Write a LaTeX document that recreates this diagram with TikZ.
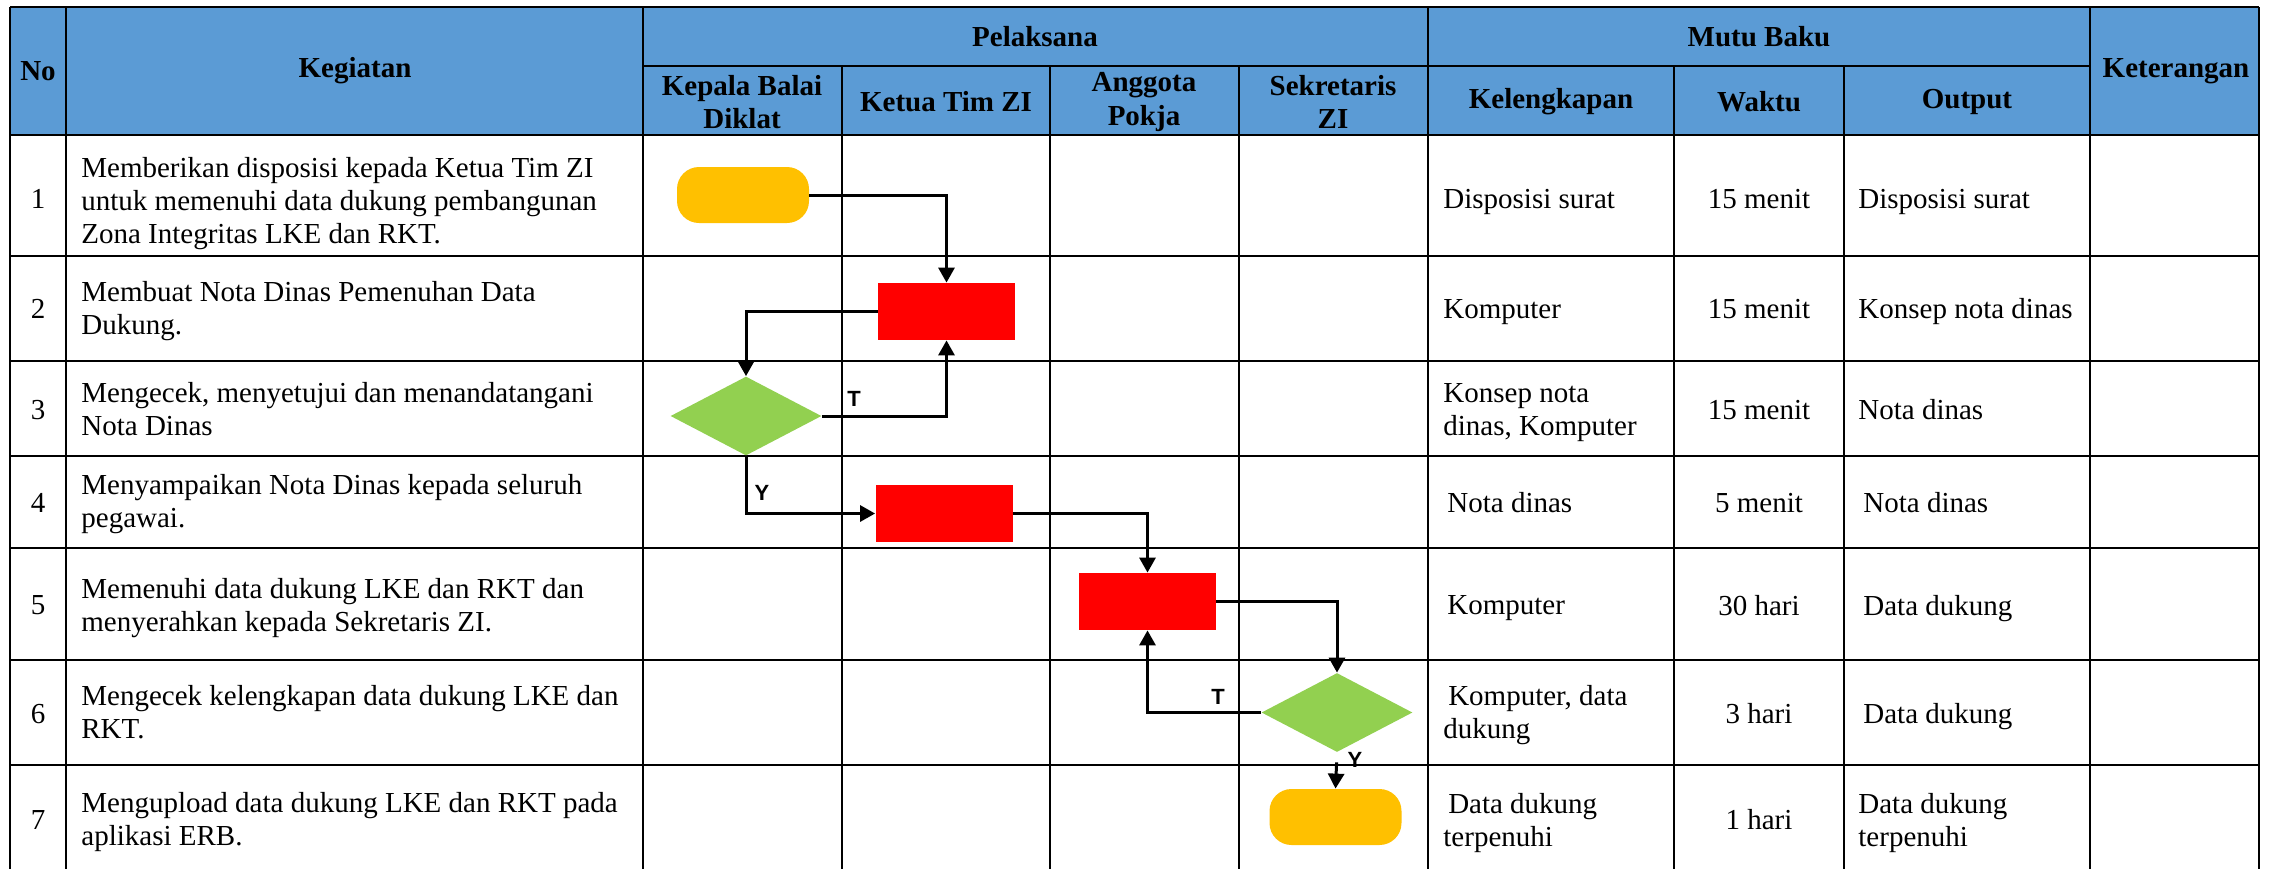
\documentclass[tikz,border=0pt]{standalone}
\usepackage{fontspec}
\setmainfont{Liberation Serif}
\newfontfamily\lblfont{Liberation Sans}
\usetikzlibrary{shapes.geometric,arrows.meta}
\definecolor{hdr}{RGB}{91,155,213}
\definecolor{termc}{RGB}{255,192,0}
\definecolor{procc}{RGB}{255,0,0}
\definecolor{decc}{RGB}{146,208,80}
\newcommand\twoln[2]{\vtop{\hbox{#1}\hbox{#2}}}
\newcommand\threeln[3]{\vtop{\hbox{#1}\hbox{#2}\hbox{#3}}}
\tikzset{
  grid/.style={line width=1pt, black},
  txt/.style={font=\fontsize{14.5}{16.6}\selectfont, inner sep=0pt, anchor=base west},
  ctxt/.style={font=\fontsize{14.5}{16.6}\selectfont, inner sep=0pt, anchor=base},
  htxt/.style={font=\fontsize{14.5}{16.6}\selectfont\bfseries, inner sep=0pt, align=center},
  termbox/.style={draw=none, fill=termc, rectangle, rounded corners=11pt, minimum width=66pt, minimum height=28pt, inner sep=0pt},
  procbox/.style={draw=none, fill=procc, rectangle, minimum width=68.5pt, minimum height=28.5pt, inner sep=0pt},
  decbox/.style={draw=none, fill=decc, diamond, minimum width=75.5pt, minimum height=39.5pt, inner sep=0pt},
  conn/.style={line width=1.5pt, -{Triangle[length=7.5pt,width=8pt]}},
  lbl/.style={font=\lblfont\bfseries\fontsize{11}{13}\selectfont, inner sep=0pt}
}
\begin{document}
\begin{tikzpicture}[x=0.5pt, y=-0.5pt]
\useasboundingbox (0,0) rectangle (2273,869);
\fill[white] (0,0) rectangle (2273,869);
\fill[hdr] (10,7) rectangle (2259,135);
% grid
\foreach \y in {7,135,256,361,456,548,660,765} \draw[grid] (10,\y) -- (2259,\y);
\draw[grid] (643,66) -- (2090,66);
\foreach \x in {10,66,643,1428,2090,2259} \draw[grid] (\x,7) -- (\x,869);
\foreach \x in {842,1050,1239,1674,1844} \draw[grid] (\x,66) -- (\x,869);
% headers
\node[htxt] (hno) at (38,71) {No};
\node[htxt] (hkeg) at (355,71) {Kegiatan};
\node[htxt] (hpel) at (1035,37) {Pelaksana};
\node[htxt] (hmutu) at (1759,37) {Mutu Baku};
\node[htxt] (hket) at (2176,71) {Keterangan};
\node[htxt] (hkbd) at (742,102) {Kepala Balai\\Diklat};
\node[htxt] (hktz) at (946,102) {Ketua Tim ZI};
\node[htxt] (hap) at (1144,102) {Anggota\\Pokja};
\node[htxt] (hsz) at (1333,102) {Sekretaris\\ZI};
\node[htxt] (hkel) at (1551,102) {Kelengkapan};
\node[htxt] (hwak) at (1759,102) {Waktu};
\node[htxt] (hout) at (1967,102) {Output};
% numbers
\node[ctxt] (n1) at (38,208) {1};
\node[ctxt] (n2) at (38,318) {2};
\node[ctxt] (n3) at (38,419) {3};
\node[ctxt] (n4) at (38,512) {4};
\node[ctxt] (n5) at (38,614) {5};
\node[ctxt] (n6) at (38,723) {6};
\node[ctxt] (n7) at (38,829) {7};
% kegiatan
\node[txt] (k1) at (81,177) {\threeln{Memberikan disposisi kepada Ketua Tim ZI}{untuk memenuhi data dukung pembangunan}{Zona Integritas LKE dan RKT.}};
\node[txt] (k2) at (81,301.5) {\twoln{Membuat Nota Dinas Pemenuhan Data}{Dukung.}};
\node[txt] (k3) at (81,402.5) {\twoln{Mengecek, menyetujui dan menandatangani}{Nota Dinas}};
\node[txt] (k4) at (81,494) {\twoln{Menyampaikan Nota Dinas kepada seluruh}{pegawai.}};
\node[txt] (k5) at (81,598) {\twoln{Memenuhi data dukung LKE dan RKT dan}{menyerahkan kepada Sekretaris ZI.}};
\node[txt] (k6) at (81,705.5) {\twoln{Mengecek kelengkapan data dukung LKE dan}{RKT.}};
\node[txt] (k7) at (81,812) {\twoln{Mengupload data dukung LKE dan RKT pada}{aplikasi ERB.}};
% kelengkapan
\node[txt] (c1) at (1443,208) {Disposisi surat};
\node[txt] (c2) at (1443,318) {Komputer};
\node[txt] (c3) at (1443,402.5) {\twoln{Konsep nota}{dinas, Komputer}};
\node[txt] (c4) at (1447,512) {Nota dinas};
\node[txt] (c5) at (1447,614) {Komputer};
\node[txt] (c6) at (1443,705.5) {\twoln{\,Komputer, data}{dukung}};
\node[txt] (c7) at (1443,813) {\twoln{\,Data dukung}{terpenuhi}};
% waktu
\node[ctxt] (w1) at (1759,208) {15 menit};
\node[ctxt] (w2) at (1759,318) {15 menit};
\node[ctxt] (w3) at (1759,419) {15 menit};
\node[ctxt] (w4) at (1759,512) {5 menit};
\node[ctxt] (w5) at (1759,615) {30 hari};
\node[ctxt] (w6) at (1759,723) {3 hari};
\node[ctxt] (w7) at (1759,829) {1 hari};
% output
\node[txt] (o1) at (1858,208) {Disposisi surat};
\node[txt] (o2) at (1858,318) {Konsep nota dinas};
\node[txt] (o3) at (1858,419) {Nota dinas};
\node[txt] (o4) at (1863,512) {Nota dinas};
\node[txt] (o5) at (1863,615) {Data dukung};
\node[txt] (o6) at (1863,723) {Data dukung};
\node[txt] (o7) at (1858,813) {\twoln{Data dukung}{terpenuhi}};
% flow shapes
\node[termbox] (t1) at (743,195) {};
\node[procbox] (b1) at (946.5,311.5) {};
\node[decbox] (d1) at (746,416) {};
\node[procbox] (b2) at (944,513.5) {};
\node[procbox] (b3) at (1147.5,601.5) {};
\node[decbox] (d2) at (1337,712.5) {};
\node[termbox] (t2) at (1335.5,817) {};
% connectors
\draw[conn] (t1.east) -| (b1.north);
\draw[conn] (b1.west) -| (d1.north);
\draw[conn] (d1.east) -| (b1.south);
\draw[conn] (d1.south) |- (b2.west);
\draw[conn] (b2.east) -| (b3.north);
\draw[conn] (b3.east) -| (d2.north);
\draw[conn] (d2.west) -| (b3.south);
\draw[conn, shorten <=5pt] (d2.south) -- (t2.north);
% labels
\node[lbl] (lt1) at (854,399) {T};
\node[lbl] (ly1) at (762,493) {Y};
\node[lbl] (lt2) at (1218,697) {T};
\node[lbl] (ly2) at (1355,760) {Y};
\end{tikzpicture}
\end{document}
